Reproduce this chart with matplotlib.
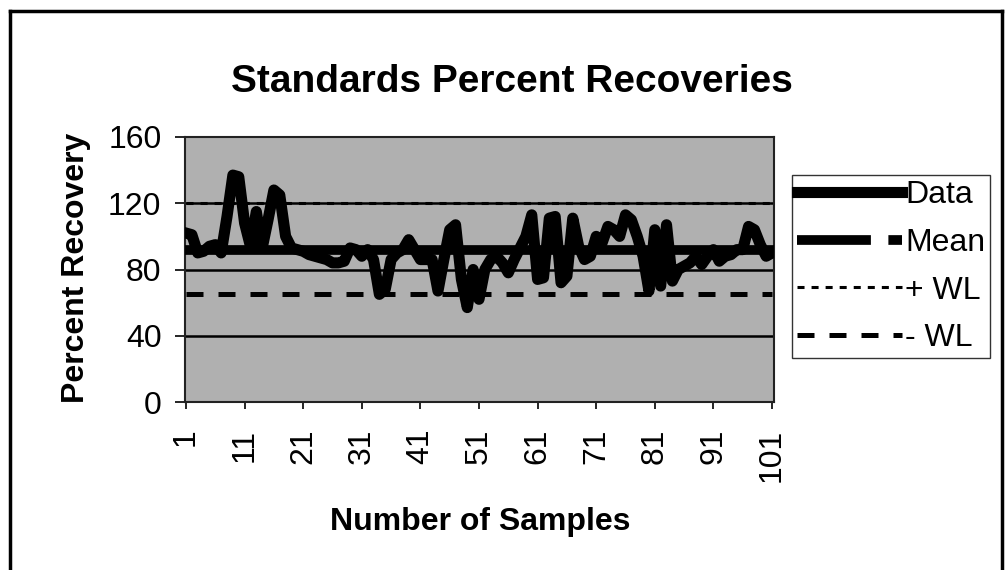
import matplotlib
matplotlib.use("Agg")
import matplotlib.pyplot as plt
from matplotlib.lines import Line2D

# valores
amostras = list(range(1, 102))
recuperacao = [
    102, 101, 90, 91, 94, 95, 90, 112, 137, 136,
    108, 94, 115, 93, 110, 128, 125, 100, 93, 92,
    91, 89, 88, 87, 86, 84, 84, 85, 93, 92,
    88, 92, 86, 65, 68, 86, 90, 92, 98, 92,
    86, 86, 86, 67, 86, 104, 107, 74, 57, 80,
    62, 80, 86, 88, 84, 78, 86, 93, 100, 113,
    74, 75, 111, 112, 72, 76, 111, 94, 86, 88,
    100, 96, 106, 104, 100, 113, 110, 100, 88, 67,
    104, 70, 107, 73, 80, 82, 84, 88, 83, 88,
    92, 85, 88, 89, 92, 92, 106, 104, 95, 88,
    90,
]
media = 92
mais_wl = 120
menos_wl = 65
yticks = [0, 40, 80, 120, 160]
xticks = list(range(1, 102, 10))
nomes = ["Data", "Mean", "+ WL", "- WL"]

plt.rcParams["font.family"] = ["Liberation Sans", "DejaVu Sans"]

W, H = 1005, 570
fig = plt.figure(figsize=(W / 100, H / 100), dpi=100)
fig.patch.set_facecolor("white")

# area do grafico em pixels: x 185-774, y 137-402
ax = fig.add_axes([185 / W, 1 - 402 / H, 589 / W, 265 / H])
ax.set_facecolor("#b0b0b0")

for v in yticks[1:-1]:
    ax.axhline(v, color="black", lw=1.8, zorder=1)

n = len(amostras)
estilos = [
    dict(color="black", lw=8, solid_joinstyle="round"),
    dict(color="black", lw=7, dashes=(7.6, 1.8), dash_capstyle="butt"),
    dict(color="black", lw=2.2, dashes=(2.3, 2.3)),
    dict(color="black", lw=3.6, dashes=(3.4, 3)),
]

ax.plot(amostras, recuperacao, zorder=4, **estilos[0])
ax.plot(amostras, [media] * n, color="black", lw=7, zorder=3)
ax.plot(amostras, [mais_wl] * n, zorder=3, **estilos[2])
ax.plot(amostras, [menos_wl] * n, zorder=3, **estilos[3])

ax.set_xlim(0.83, 101.34)
ax.set_ylim(0, 160)
ax.set_yticks(yticks)
ax.set_xticks(xticks)
ax.set_xticklabels([str(x) for x in xticks], rotation=90)
ax.tick_params(axis="y", direction="out", length=7, width=1.2, labelsize=23, pad=10)
ax.tick_params(axis="x", direction="out", length=5, width=1.2, labelsize=23, pad=14)
for s in ax.spines.values():
    s.set_linewidth(1.5)
    s.set_color("#222222")

ax.set_xlabel("Number of Samples", fontsize=23, fontweight="bold", va="center")
ax.xaxis.set_label_coords((480 - 185) / 589, (402 - 522) / 265)
ax.set_ylabel("Percent Recovery", fontsize=23, fontweight="bold", va="center")
ax.yaxis.set_label_coords((76 - 185) / 589, (402 - 268) / 265)

fig.text(512 / W, 1 - 82 / H, "Standards Percent Recoveries", fontsize=28,
         fontweight="bold", ha="center", va="center")

alcas = [Line2D([0], [0], **e) for e in estilos]
leg = ax.legend(alcas, nomes, loc="upper left", bbox_to_anchor=(792 / W, 1 - 175 / H),
                bbox_transform=fig.transFigure, fontsize=23, frameon=True,
                fancybox=False, handlelength=3.3, handletextpad=0.1,
                borderpad=0.15, labelspacing=0.56, borderaxespad=0)
leg.get_frame().set_edgecolor("black")
leg.get_frame().set_linewidth(1.0)

# moldura externa do grafico
borda = dict(color="black", lw=2.5, transform=fig.transFigure)
fig.add_artist(Line2D([10 / W, 10 / W], [0, 1 - 11 / H], **borda))
fig.add_artist(Line2D([10 / W, 1002 / W], [1 - 11 / H, 1 - 11 / H], **borda))
fig.add_artist(Line2D([1002 / W, 1002 / W], [0, 1 - 11 / H], **borda))

fig.savefig("out.png", dpi=100)
